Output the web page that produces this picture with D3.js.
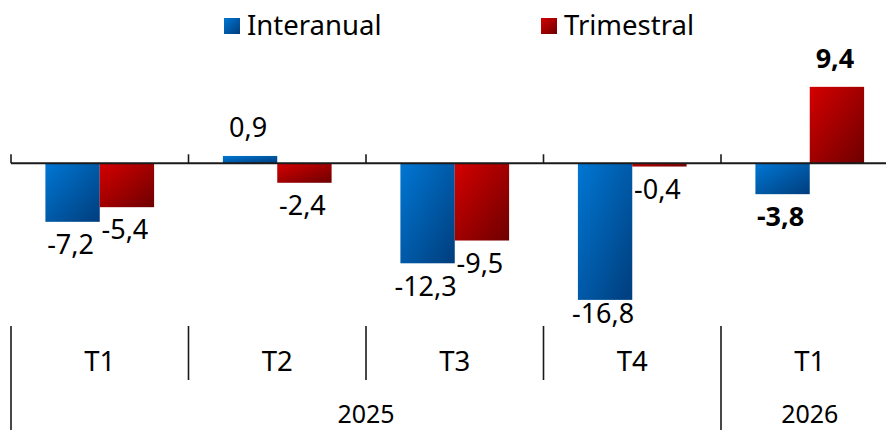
<!DOCTYPE html>
<html>
<head>
<meta charset="utf-8">
<script src="https://cdn.jsdelivr.net/npm/d3@7"></script>
<style>
  html, body { margin: 0; padding: 0; background: #fff; }
  svg { display: block; font-family: "Noto Sans", "Open Sans", sans-serif; }
</style>
</head>
<body>
<svg id="chart" width="886" height="430"></svg>
<script>
// ---- data ----
const quarters = ["T1", "T2", "T3", "T4", "T1"];
const years = ["2025", "2025", "2025", "2025", "2026"];
const yearLabels = ["2025", "2026"];
const seriesNames = ["Interanual", "Trimestral"];
const interanual = [-7.2, 0.9, -12.3, -16.8, -3.8];
const trimestral = [-5.4, -2.4, -9.5, -0.4, 9.4];
const highlightIndex = 4; // last quarter shown in bold

const fmt = v => d3.format(".1f")(v).replace("\u2212", "-").replace(".", ",");

const svg = d3.select("#chart");
const W = 886, H = 430;

const defs = svg.append("defs");
function grad(id, c1, c2) {
  const g = defs.append("linearGradient").attr("id", id)
    .attr("x1", "0").attr("y1", "0").attr("x2", "1").attr("y2", "1");
  g.append("stop").attr("offset", "0%").attr("stop-color", c1);
  g.append("stop").attr("offset", "100%").attr("stop-color", c2);
}
grad("gBlue", "#0077D4", "#003D7C");
grad("gRed", "#D40000", "#6E0000");
const fills = ["url(#gBlue)", "url(#gRed)"];

// ---- scales ----
const idx = d3.range(quarters.length);
const x0 = d3.scaleBand().domain(idx).range([11, 898.5]).padding(0);
const x1 = d3.scaleBand().domain(seriesNames).range([0, x0.bandwidth()])
  .paddingInner(0).paddingOuter(0.633);
const y = d3.scaleLinear().domain([-20, 12]).range([325.9, 65.7]);

const rows = idx.map(i => ({ i, vals: [interanual[i], trimestral[i]] }));

// ---- bars ----
const g = svg.append("g");
rows.forEach(r => {
  r.vals.forEach((v, s) => {
    const bx = x0(r.i) + x1(seriesNames[s]);
    g.append("rect")
      .attr("x", bx)
      .attr("y", y(Math.max(0, v)))
      .attr("width", x1.bandwidth())
      .attr("height", Math.abs(y(v) - y(0)))
      .attr("fill", fills[s]);
  });
});

// ---- zero axis with ticks ----
svg.append("line")
  .attr("x1", 11).attr("x2", W)
  .attr("y1", y(0)).attr("y2", y(0))
  .attr("stroke", "#1a1a1a").attr("stroke-width", 2);
idx.forEach(i => {
  svg.append("line")
    .attr("x1", x0(i)).attr("x2", x0(i))
    .attr("y1", y(0)).attr("y2", y(0) - 9)
    .attr("stroke", "#1a1a1a").attr("stroke-width", 1.6);
});

// ---- data labels ----
const labelSize = 27;
const capH = labelSize * 0.714;
const labelFloor = 323; // keep labels above category band
rows.forEach(r => {
  r.vals.forEach((v, s) => {
    const cx = x0(r.i) + x1(seriesNames[s]) + x1.bandwidth() / 2;
    let base;
    if (v >= 0) base = y(v) - 19;
    else base = Math.min(y(v) + 13 + capH, labelFloor);
    svg.append("text")
      .attr("x", cx - 2)
      .attr("y", base)
      .attr("text-anchor", "middle")
      .attr("font-size", labelSize)
      .attr("font-weight", r.i === highlightIndex ? "bold" : "normal")
      .attr("fill", "#000")
      .text(fmt(v));
  });
});

// ---- category axis (quarters + years) ----
const sepTop = 326, sepMid = 380;
idx.forEach(i => {
  svg.append("line")
    .attr("x1", x0(i)).attr("x2", x0(i))
    .attr("y1", sepTop).attr("y2", sepMid)
    .attr("stroke", "#1a1a1a").attr("stroke-width", 1.6);
  svg.append("text")
    .attr("x", x0(i) + x0.bandwidth() / 2)
    .attr("y", 370.5)
    .attr("text-anchor", "middle")
    .attr("font-size", 27.5)
    .attr("fill", "#000")
    .text(quarters[i]);
});
yearLabels.forEach(yr => {
  const members = idx.filter(i => years[i] === yr);
  const left = x0(members[0]);
  const right = x0(members[members.length - 1]) + x0.bandwidth();
  svg.append("line")
    .attr("x1", left).attr("x2", left)
    .attr("y1", sepMid).attr("y2", H)
    .attr("stroke", "#1a1a1a").attr("stroke-width", 1.6);
  svg.append("text")
    .attr("x", (left + right) / 2)
    .attr("y", 422.5)
    .attr("text-anchor", "middle")
    .attr("font-size", 25)
    .attr("fill", "#000")
    .text(yr);
});

// ---- legend ----
const legendX = [224, 541];
seriesNames.forEach((name, s) => {
  svg.append("rect")
    .attr("x", legendX[s]).attr("y", 18)
    .attr("width", 16).attr("height", 16)
    .attr("fill", fills[s]);
  svg.append("text")
    .attr("x", legendX[s] + 23)
    .attr("y", 34.5)
    .attr("font-size", 27.5)
    .attr("fill", "#000")
    .text(name);
});
</script>
</body>
</html>
